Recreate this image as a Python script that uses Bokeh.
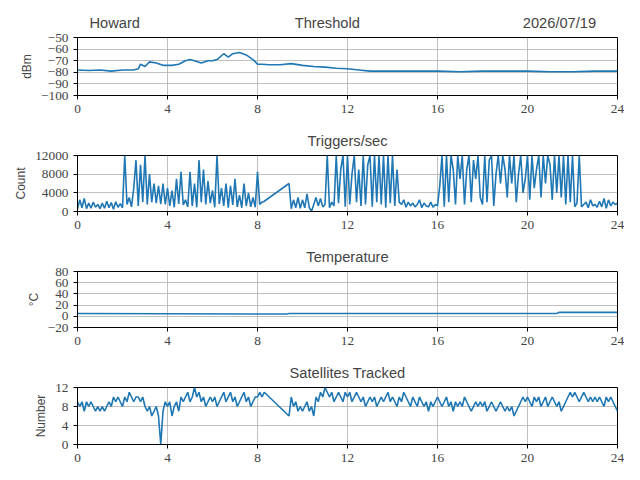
from bokeh.models import FixedTicker
from bokeh.plotting import figure
from bokeh.layouts import column
from bokeh.embed import file_html
from bokeh.resources import INLINE

BLUE = "#1f77b4"

# Threshold (dBm)
thr_t = [0, 0.5, 1, 1.5, 2, 2.5, 2.7, 2.8, 3.0, 3.2, 3.5, 3.8, 4.0, 4.2, 4.5, 4.8,
         5.0, 5.2, 5.5, 5.8, 6.0, 6.2, 6.5, 6.7, 6.9, 7.2, 7.5, 7.8, 8.0, 8.2, 8.5,
         9.0, 9.5, 10, 10.5, 11, 11.5, 12, 12.5, 13, 13.5, 14, 15, 16, 17, 18, 19,
         20, 21, 22, 23, 24]
thr_v = [-78, -78.5, -78, -79, -78, -78, -77, -73, -75, -71, -72, -74, -74, -74,
         -73, -70, -69, -70, -72, -70, -70, -69, -64, -67, -64, -63, -65, -69, -73,
         -73, -73.5, -73.5, -72.5, -74, -75, -75.5, -76.5, -77, -78, -79, -79, -79,
         -79, -79, -79.5, -79, -79, -79, -79.5, -79.5, -79, -79]

# Triggers/sec, sampled every 0.1 h with a data gap 8.3 -> 9.4
trig_v = [
    500, 2500, 800, 2800, 600, 1800, 700, 2000, 900, 1500,
    600, 1800, 700, 2200, 800, 1900, 500, 2100, 900, 1700,
    800, 12000, 1500, 3000, 1000, 5000, 11000, 1200, 10000, 2000,
    12000, 1500, 8000, 2000, 6000, 1800, 5500, 1600, 6000, 1500,
    5000, 1200, 4500, 900, 7000, 1600, 8500, 1400, 2500, 1000,
    8500, 1200, 6000, 900, 11000, 2000, 9000, 1500, 6500, 1800,
    4500, 900, 12000, 1600, 5000, 1200, 6000, 800, 5500, 1400,
    7000, 1000, 3500, 800, 6000, 1200, 4000, 1000, 3000, 900,
    8500, 1500, 2000, 2200,
    6000, 600, 2500, 800, 3000, 700,
    2500, 800, 3800, 900, 0, 1500, 3000, 1200, 2800, 1000,
    1500, 12000, 800, 2000, 1200, 12000, 1800, 9000, 12000, 1000,
    12000, 1500, 8000, 12000, 2000, 9000, 1200, 12000, 1500, 10000,
    12000, 1000, 12000, 2000, 12000, 1500, 12000, 800, 12000, 1800,
    12000, 1200, 9000, 2000, 1500, 2500, 900, 2000, 1200, 1800,
    1000, 1500, 2500, 800, 1800, 1200, 1000, 2000, 900, 1500,
    1200, 5500, 12000, 1000, 12000, 2000, 12000, 9000, 1500, 12000,
    7000, 12000, 1500, 9000, 12000, 2000, 11000, 7000, 12000, 3000,
    1500, 12000, 2000, 11000, 12000, 1200, 8000, 12000, 6000, 12000,
    9000, 3000, 12000, 6000, 12000, 2000, 8000, 12000, 4000, 7000,
    12000, 2500, 12000, 5000, 9000, 12000, 3000, 12000, 6000, 12000,
    10000, 2500, 12000, 4000, 12000, 3000, 12000, 1500, 12000, 2000,
    12000, 1000, 1800, 12000, 1000, 1500, 2000, 800, 2500, 1200,
    1500, 900, 2200, 1000, 2800, 700, 2500, 1200, 2000, 1500,
    1800]

# Temperature (C)
temp_t = [0, 9.3, 9.4, 21.3, 21.4, 24]
temp_v = [5, 4, 5, 5, 7, 7]

# Satellites tracked, same sampling as triggers
sat_v = [
    9, 8, 9, 7, 9, 8, 9, 8, 7, 8,
    7, 8, 7, 8, 9, 8, 10, 9, 10, 9,
    8, 10, 9, 11, 10, 9, 10, 10, 9, 10,
    8, 7, 8, 6, 7, 8, 6, 0, 7, 9,
    8, 9, 6, 8, 9, 7, 10, 9, 10, 11,
    9, 10, 12, 10, 11, 9, 10, 8, 9, 10,
    9, 10, 8, 9, 10, 11, 9, 10, 11, 9,
    10, 8, 9, 10, 11, 9, 10, 8, 9, 10,
    10, 11, 10, 11,
    6, 10, 8, 9, 7, 8,
    7, 8, 9, 7, 8, 6, 10, 9, 11, 10,
    12, 11, 10, 11, 9, 10, 11, 10, 9, 11,
    10, 11, 9, 10, 11, 10, 9, 10, 8, 9,
    10, 9, 10, 8, 9, 10, 9, 10, 11, 9,
    10, 9, 8, 10, 9, 11, 10, 9, 8, 10,
    9, 8, 10, 9, 8, 9, 7, 9, 8, 9,
    10, 9, 8, 9, 10, 8, 9, 7, 9, 8,
    9, 8, 10, 9, 8, 7, 8, 9, 8, 9,
    8, 9, 7, 8, 9, 8, 7, 8, 9, 8,
    7, 8, 7, 8, 6, 7, 8, 9, 10, 9,
    10, 9, 8, 10, 9, 10, 8, 9, 10, 8,
    9, 10, 9, 8, 9, 7, 8, 9, 10, 11,
    10, 11, 10, 9, 10, 11, 10, 9, 10, 9,
    10, 9, 10, 9, 8, 10, 9, 10, 9, 8,
    7]

samp_t = [round(i * 0.1, 1) for i in range(84)] + [round(9.4 + i * 0.1, 1) for i in range(147)]

x_ticks = [0, 4, 8, 12, 16, 20, 24]


def panel(title, ylabel, yr, yticks, top, bottom):
    p = figure(width=624, height=top + 58 + bottom, x_range=(0, 24), y_range=yr,
               toolbar_location=None, tools="", output_backend="svg",
               min_border_left=77, min_border_right=7,
               min_border_top=top, min_border_bottom=bottom)
    p.title.text = title
    p.title.align = "center"
    p.title.text_font = "Liberation Sans"
    p.title.text_font_size = "11pt"
    p.title.text_font_style = "normal"
    p.title.standoff = 13
    p.outline_line_color = "black"
    p.outline_line_width = 1
    for ax in (p.xaxis, p.yaxis):
        ax.major_label_text_font = "Liberation Serif"
        ax.major_label_text_font_size = "10pt"
        ax.major_tick_in = 0
        ax.major_tick_out = 4
        ax.minor_tick_line_color = None
        ax.axis_line_color = "black"
    p.xaxis.ticker = FixedTicker(ticks=x_ticks)
    p.yaxis.ticker = FixedTicker(ticks=yticks)
    p.yaxis.major_label_overrides = {v: str(v).replace("-", "\u2212") for v in yticks}
    p.yaxis.axis_label = ylabel
    p.yaxis.axis_label_text_font = "Liberation Sans"
    p.yaxis.axis_label_text_font_size = "9pt"
    p.yaxis.axis_label_text_font_style = "normal"
    p.yaxis.axis_label_standoff = 4
    p.grid.grid_line_color = "#b0b0b0"
    p.grid.grid_line_width = 0.8
    return p


# station name and date share the title line of the first panel
nb = "\u00a0"
head = "Howard" + nb * 38 + "Threshold" + nb * 40 + "2026/07/19"
p1 = panel(head, "dBm", (-100, -50), [-100, -90, -80, -70, -60, -50], 37, 29)
p1.title.align = "left"
p1.title.offset = 12
p1.line(thr_t, thr_v, color=BLUE, line_width=1.6)

p2 = panel("Triggers/sec", "Count", (0, 12000), [0, 4000, 8000, 12000], 29, 29)
p2.line(samp_t, trig_v, color=BLUE, line_width=1.6)

p3 = panel("Temperature", "\u00b0C", (-20, 80), [-20, 0, 20, 40, 60, 80], 29, 29)
p3.line(temp_t, temp_v, color=BLUE, line_width=1.6)

p4 = panel("Satellites Tracked", "Number", (0, 12), [0, 4, 8, 12], 30, 30)
p4.line(samp_t, sat_v, color=BLUE, line_width=1.6)

layout = column(p1, p2, p3, p4, spacing=0)
open("out.html", "w").write(file_html(layout, INLINE))
